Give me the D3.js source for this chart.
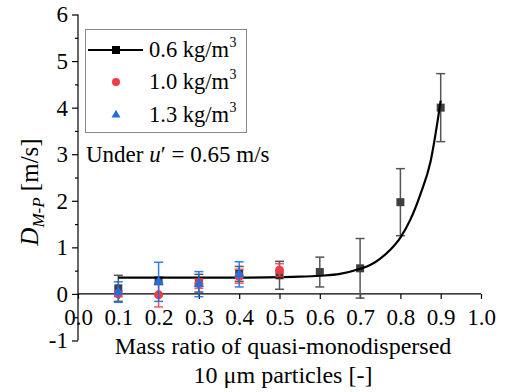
<!DOCTYPE html>
<html>
<head>
<meta charset="utf-8">
<script src="https://d3js.org/d3.v7.min.js"></script>
<style>
  body { margin: 0; background: #fff; }
  svg text { font-family: "Liberation Serif", "Times New Roman", serif; fill: #000; }
</style>
</head>
<body>
<div id="chart"></div>
<script>
// mass ratio categories
var ratios = [0.1, 0.2, 0.3, 0.4, 0.5, 0.6, 0.7, 0.8, 0.9];

// 0.6 kg/m3 series
var d06 = [0.12, 0.28, 0.23, 0.43, 0.40, 0.47, 0.55, 1.97, 4.00];
var e06 = [0.28, 0.08, 0.19, 0.16, 0.30, 0.32, 0.64, 0.72, 0.73];

// 1.0 kg/m3 series
var d10 = [0.00, -0.02, 0.22, 0.38, 0.51];
var e10 = [0.06, 0.26, 0.10, 0.15, 0.14];

// 1.3 kg/m3 series
var d13 = [0.04, 0.26, 0.21, 0.42];
var e13 = [0.22, 0.42, 0.27, 0.27];

// fitted curve
var fitX = [0.1, 0.2, 0.3, 0.4, 0.5, 0.55, 0.6, 0.65, 0.7, 0.725, 0.75, 0.775, 0.8, 0.825, 0.85, 0.875, 0.9];
var fitY = [0.35, 0.35, 0.35, 0.35, 0.36, 0.37, 0.39, 0.43, 0.54, 0.62, 0.76, 0.95, 1.21, 1.6, 2.15, 2.85, 4.15];

var xTicks = [0, 0.1, 0.2, 0.3, 0.4, 0.5, 0.6, 0.7, 0.8, 0.9, 1.0];
var yTicks = [-1, 0, 1, 2, 3, 4, 5, 6];

var width = 507, height = 392;

var svg = d3.select("#chart").append("svg")
    .attr("width", width)
    .attr("height", height);

var x = d3.scaleLinear().domain([0, 1]).range([78, 481]);
var y = d3.scaleLinear().domain([-1, 6]).range([340.5, 14.5]);

// y axis (left, with minor ticks)
var yAxis = d3.axisLeft(y).tickValues(yTicks).tickFormat(d3.format("d")).tickSize(6).tickPadding(4);
var yMinor = d3.axisLeft(y).tickValues(d3.range(-0.5, 6, 1)).tickFormat("").tickSize(3);

svg.append("g").attr("transform", "translate(" + x(0) + ",0)").call(yMinor)
    .call(function(g) { g.select(".domain").remove(); });
var gy = svg.append("g").attr("transform", "translate(" + x(0) + ",0)").call(yAxis);
gy.select(".domain").attr("d", "M0," + y(6) + "V" + y(-1));
gy.selectAll("text").style("font-size", "23px").text(function(d) { return d < 0 ? "-1" : d; });

// x axis at y = 0
var xAxis = d3.axisBottom(x).tickValues(xTicks).tickFormat(d3.format(".1f")).tickSize(5).tickPadding(10);
var gx = svg.append("g").attr("transform", "translate(0," + y(0) + ")").call(xAxis);
gx.select(".domain").attr("d", "M" + x(0) + ",0H" + x(1));
gx.selectAll("text").style("font-size", "23px");

svg.selectAll(".domain, .tick line").attr("stroke", "#000").attr("stroke-width", 1.2);

// error bars helper
function errBars(xs, vals, errs, color, cap, op) {
  var g = svg.append("g").attr("stroke", color).attr("stroke-width", 1.5).attr("opacity", op);
  vals.forEach(function(v, i) {
    var cx = x(xs[i]), y1 = y(v + errs[i]), y2 = y(v - errs[i]);
    g.append("line").attr("x1", cx).attr("x2", cx).attr("y1", y1).attr("y2", y2);
    g.append("line").attr("x1", cx - cap).attr("x2", cx + cap).attr("y1", y1).attr("y2", y1);
    g.append("line").attr("x1", cx - cap).attr("x2", cx + cap).attr("y1", y2).attr("y2", y2);
  });
}

var grayC = "#3f3f3f", redC = "#ef3d45", blueC = "#1f6fe3";

// 0.6 kg/m3
errBars(ratios, d06, e06, "#555", 4.5, 1);
svg.append("g").selectAll("rect").data(d06).enter().append("rect")
    .attr("x", function(d, i) { return x(ratios[i]) - 4; })
    .attr("y", function(d) { return y(d) - 4; })
    .attr("width", 8).attr("height", 8)
    .attr("fill", grayC);

// fit curve
var fitLine = d3.line()
    .x(function(d) { return x(d[0]); })
    .y(function(d) { return y(d[1]); })
    .curve(d3.curveMonotoneX);
svg.append("path")
    .datum(fitX.map(function(v, i) { return [v, fitY[i]]; }))
    .attr("d", fitLine)
    .attr("fill", "none")
    .attr("stroke", "#000")
    .attr("stroke-width", 2.2);

// 1.0 kg/m3
errBars(ratios.slice(0, d10.length), d10, e10, redC, 4.5, 0.85);
svg.append("g").selectAll("circle").data(d10).enter().append("circle")
    .attr("cx", function(d, i) { return x(ratios[i]); })
    .attr("cy", function(d) { return y(d); })
    .attr("r", 4.5)
    .attr("fill", redC);

// 1.3 kg/m3
errBars(ratios.slice(0, d13.length), d13, e13, blueC, 4.5, 0.9);
var tri = d3.symbol().type(d3.symbolTriangle).size(45);
svg.append("g").selectAll("path").data(d13).enter().append("path")
    .attr("d", tri)
    .attr("transform", function(d, i) { return "translate(" + x(ratios[i]) + "," + y(d) + ")"; })
    .attr("fill", blueC);

// legend
var leg = svg.append("g");
leg.append("rect").attr("x", 85.5).attr("y", 29.5).attr("width", 161).attr("height", 103)
    .attr("fill", "#fff").attr("stroke", "#888").attr("stroke-width", 1);
var rows = [
  { label: "0.6 kg/m", color: grayC, sym: "square", cy: 50 },
  { label: "1.0 kg/m", color: redC, sym: "circle", cy: 82 },
  { label: "1.3 kg/m", color: blueC, sym: "triangle", cy: 115 }
];
rows.forEach(function(r) {
  if (r.sym === "square") {
    leg.append("line").attr("x1", 88).attr("x2", 143).attr("y1", r.cy).attr("y2", r.cy)
        .attr("stroke", "#000").attr("stroke-width", 2);
    leg.append("rect").attr("x", 112).attr("y", r.cy - 4).attr("width", 8).attr("height", 8).attr("fill", "#000");
  } else if (r.sym === "circle") {
    leg.append("circle").attr("cx", 116).attr("cy", r.cy).attr("r", 4).attr("fill", r.color);
  } else {
    leg.append("path").attr("d", d3.symbol().type(d3.symbolTriangle).size(35))
        .attr("transform", "translate(116," + r.cy + ")").attr("fill", r.color);
  }
  var t = leg.append("text").attr("x", 149).attr("y", r.cy + 7).style("font-size", "22.5px");
  t.append("tspan").text(r.label);
  t.append("tspan").attr("dy", -10).attr("dx", 0.5).style("font-size", "14px").text("3");
});

// annotation
var ann = svg.append("text").attr("x", 86).attr("y", 162).style("font-size", "23px");
ann.append("tspan").text("Under ");
ann.append("tspan").style("font-style", "italic").text("u");
ann.append("tspan").text("\u2032 = 0.65 m/s");

// axis titles
svg.append("text").attr("x", 283).attr("y", 354).attr("text-anchor", "middle")
    .style("font-size", "24px").text("Mass ratio of quasi-monodispersed");
svg.append("text").attr("x", 283).attr("y", 383).attr("text-anchor", "middle")
    .style("font-size", "24px").text("10 \u03bcm particles [-]");

var yl = svg.append("text").attr("transform", "translate(38,192) rotate(-90)")
    .attr("text-anchor", "middle").style("font-size", "25px");
yl.append("tspan").style("font-style", "italic").text("D");
yl.append("tspan").attr("dy", 6).style("font-style", "italic").style("font-size", "17px").text("M-P");
yl.append("tspan").attr("dy", -6).text(" [m/s]");
</script>
</body>
</html>
